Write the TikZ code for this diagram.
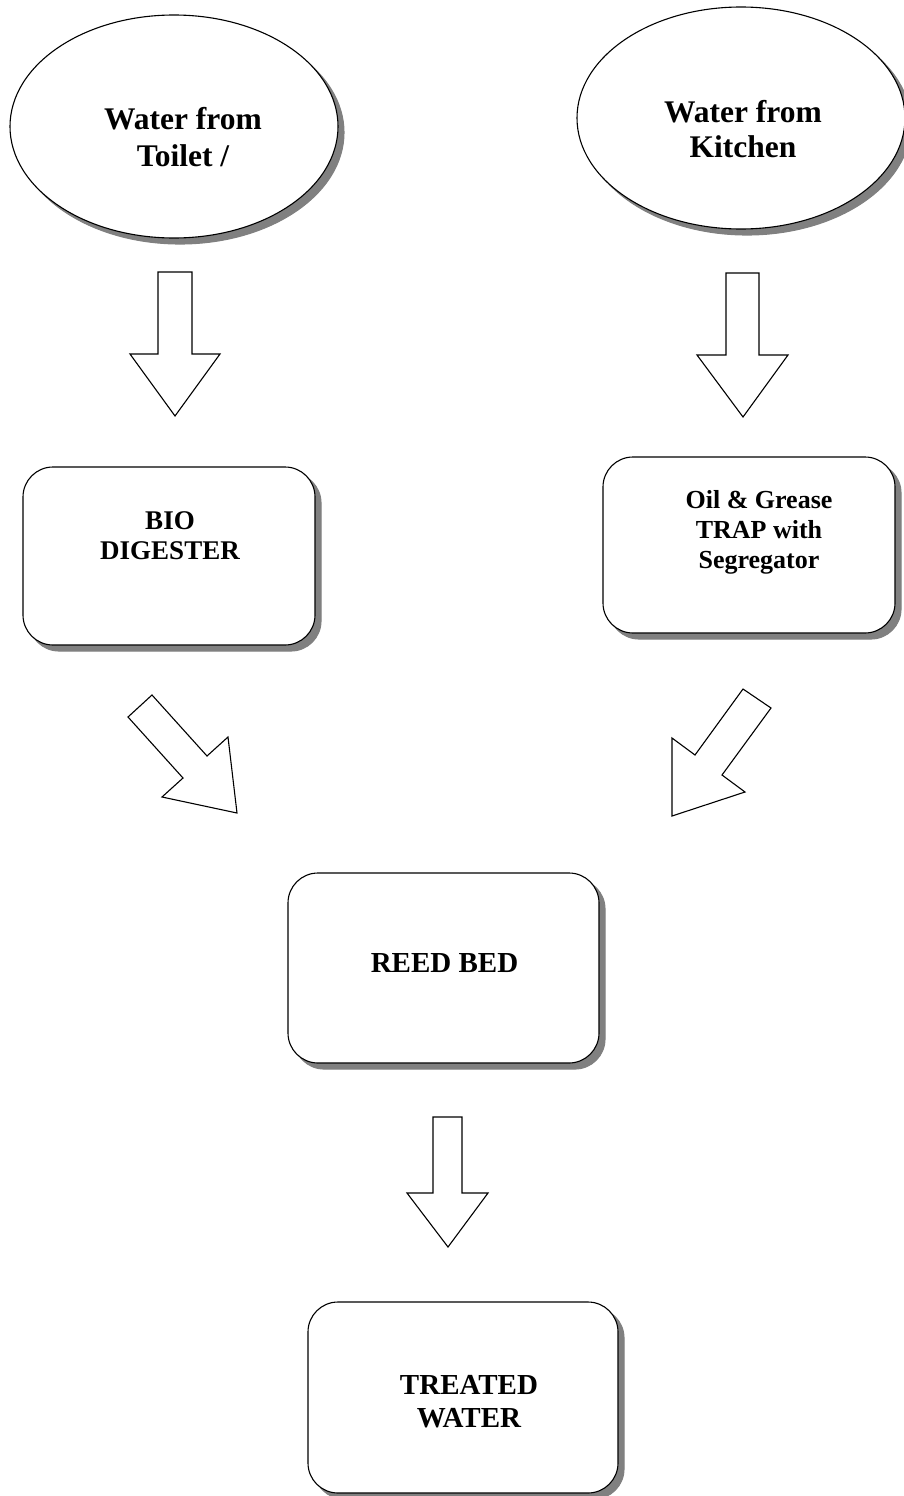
\documentclass[tikz,border=0pt]{standalone}
\usepackage{fontspec}
\setmainfont{Liberation Serif}
\usepackage{tikz}
\usetikzlibrary{shapes.geometric}
\definecolor{shadowgray}{HTML}{808080}

\tikzset{
  shadowed/.style={preaction={fill=shadowgray, draw=shadowgray, transform canvas={shift={(6pt,-6pt)}}}},
  source/.style={ellipse, draw, fill=white, line width=1.1, inner sep=0, shadowed},
  unit/.style={rectangle, rounded corners=30, draw, fill=white, line width=1.1, inner sep=0, shadowed},
  txt/.style={align=center, inner sep=0},
  flow/.style={draw, fill=white, line width=1.1, line join=miter},
}

\begin{document}
\begin{tikzpicture}[x=1pt,y=1pt,yscale=-1]
\useasboundingbox (0,0) rectangle (903,1496);
%两个来源
\node [source, minimum width=328, minimum height=223] (toilet) at (174,126.5) {};
\node [source, minimum width=328, minimum height=222] (kitchen) at (741,118) {};
\node [txt, font=\fontsize{31.5}{37}\selectfont\bfseries] (toilettext) at (183,137) {Water from\\Toilet /};
\node [txt, font=\fontsize{31.5}{35}\selectfont\bfseries] (kitchentext) at (743,129) {Water from\\Kitchen};
%处理单元
\node [unit, minimum width=292, minimum height=178] (bio) at (169,556) {};
\node [unit, minimum width=292, minimum height=176] (trap) at (749,545) {};
\node [unit, minimum width=311, minimum height=190] (reed) at (443.5,968) {};
\node [unit, minimum width=310, minimum height=191] (treated) at (463,1397.5) {};
\node [txt, font=\fontsize{27}{30}\selectfont\bfseries] (biotext) at (170,536) {BIO\\DIGESTER};
\node [txt, font=\fontsize{26}{30}\selectfont\bfseries] (traptext) at (759,532) {Oil \& Grease\\TRAP with\\Segregator};
\node [txt, font=\fontsize{29}{33}\selectfont\bfseries, anchor=base] (reedtext) at (444.5,972) {REED BED};
\node [txt, font=\fontsize{29}{33}\selectfont\bfseries] (treatedtext) at (469,1402) {TREATED\\WATER};
%箭头
\draw [flow] (158,272) -- (192,272) -- (192,354) -- (220,354) -- (175,416) -- (130,354) -- (158,354) -- cycle;%左
\draw [flow] (726,273) -- (759,273) -- (759,355) -- (788,355) -- (743,417) -- (697,355) -- (726,355) -- cycle;%右
\draw [flow] (128,717) -- (152,695) -- (207,756) -- (228,737) -- (237,813) -- (162,797) -- (183,778) -- cycle;%斜左
\draw [flow] (743,689) -- (771,708) -- (722,775) -- (745,792) -- (672,816) -- (672,738) -- (695,755) -- cycle;%斜右
\draw [flow] (433,1117) -- (462,1117) -- (462,1193) -- (488,1193) -- (448,1247) -- (407,1193) -- (433,1193) -- cycle;%下
\end{tikzpicture}
\end{document}
